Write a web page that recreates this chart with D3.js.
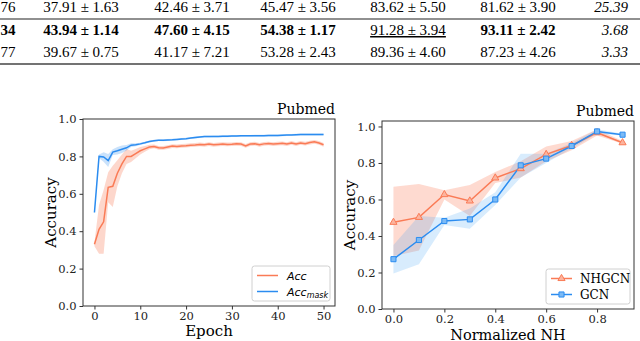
<!DOCTYPE html>
<html>
<head>
<meta charset="utf-8">
<script src="https://cdn.jsdelivr.net/npm/d3@7"></script>
<style>
  body { margin: 0; background: #fff; }
  svg { display: block; }
</style>
</head>
<body>
<div id="my_dataviz"></div>
<script>
// table rows at the top (fragment of a table)
var tableRows = [
  ["76", "37.91 ± 1.63", "42.46 ± 3.71", "45.47 ± 3.56", "83.62 ± 5.50", "81.62 ± 3.90", "25.39"],
  ["34", "43.94 ± 1.14", "47.60 ± 4.15", "54.38 ± 1.17", "91.28 ± 3.94", "93.11 ± 2.42", "3.68"],
  ["77", "39.67 ± 0.75", "41.17 ± 7.21", "53.28 ± 2.43", "89.36 ± 4.60", "87.23 ± 4.26", "3.33"]
];

// left chart: accuracy per epoch
var epochs = d3.range(0, 51);
var accMean = [0.33,0.41,0.45,0.635,0.64,0.71,0.76,0.80,0.80,0.815,0.83,0.84,0.85,0.853,0.846,0.845,0.85,0.855,0.853,0.856,
  0.857,0.86,0.861,0.864,0.862,0.866,0.862,0.864,0.866,0.864,0.865,0.867,0.866,0.856,0.866,0.868,0.862,0.867,0.869,0.866,
  0.868,0.87,0.866,0.872,0.866,0.872,0.868,0.874,0.878,0.872,0.862];
var accStd = [0.01,0.13,0.17,0.08,0.11,0.07,0.05,0.04,0.03,0.025,0.02,0.015,0.012,0.01,0.01,0.01,0.01,0.01,0.01,0.01,
  0.01,0.01,0.01,0.01,0.01,0.01,0.01,0.01,0.01,0.01,0.01,0.01,0.01,0.01,0.01,0.01,0.01,0.01,0.01,0.01,
  0.01,0.01,0.01,0.01,0.01,0.01,0.01,0.01,0.01,0.01,0.01];
var maskMean = [0.50,0.80,0.797,0.778,0.823,0.83,0.838,0.846,0.86,0.862,0.867,0.873,0.88,0.884,0.887,0.886,0.888,0.889,0.891,0.893,
  0.895,0.898,0.901,0.904,0.906,0.906,0.907,0.907,0.908,0.908,0.909,0.909,0.91,0.91,0.91,0.911,0.911,0.911,0.912,0.912,
  0.912,0.913,0.914,0.915,0.916,0.917,0.917,0.917,0.917,0.917,0.917];
var maskStd = [0.005,0.01,0.025,0.035,0.015,0.02,0.02,0.015,0.01,0.008,0.006,0.005,0.005,0.005,0.005,0.005,0.005,0.005,0.005,0.005,
  0.005,0.005,0.005,0.005,0.005,0.005,0.005,0.005,0.005,0.005,0.005,0.005,0.005,0.005,0.005,0.005,0.005,0.005,0.005,0.005,
  0.005,0.005,0.005,0.005,0.005,0.005,0.005,0.005,0.005,0.005,0.005];

// right chart: accuracy vs normalized NH
var nh = [0.0,0.1,0.2,0.3,0.4,0.5,0.6,0.7,0.8,0.9];
var nhgcn = [0.475,0.502,0.627,0.592,0.718,0.769,0.847,0.896,0.966,0.911];
var nhgcnLo = [0.29,0.32,0.60,0.51,0.69,0.72,0.81,0.87,0.95,0.905];
var nhgcnHi = [0.67,0.685,0.65,0.68,0.75,0.81,0.89,0.92,0.985,0.92];
var gcn = [0.273,0.378,0.482,0.491,0.60,0.787,0.824,0.893,0.973,0.955];
var gcnLo = [0.195,0.245,0.46,0.44,0.57,0.72,0.80,0.88,0.96,0.95];
var gcnHi = [0.35,0.51,0.50,0.55,0.64,0.85,0.85,0.91,0.985,0.96];

var orange = "#fa7b56", blue = "#2b8cf0";
var serif = "DejaVu Serif";

var svg = d3.select("#my_dataviz")
  .append("svg")
  .attr("width", 640)
  .attr("height", 341);

// ---- table fragment ----
var colX = [8, 81, 192, 298, 408, 518, 628];
var rowY = [12, 35, 57];
var table = svg.append("g")
  .style("font-family", "Liberation Serif")
  .style("font-size", "15px");
tableRows.forEach(function(row, r) {
  row.forEach(function(cell, c) {
    var last = c == row.length - 1;
    var t = table.append("text")
      .attr("x", colX[c])
      .attr("y", rowY[r])
      .attr("text-anchor", last ? "end" : "middle")
      .style("font-style", last ? "italic" : "normal")
      .style("font-weight", (r == 1 && c != 4 && !last) ? "bold" : "normal")
      .text(cell);
    if (r == 1 && c == 4) t.style("text-decoration", "underline");
  });
});
table.append("line").attr("x1", 0).attr("x2", 640).attr("y1", 19).attr("y2", 19)
  .attr("stroke", "#222").attr("stroke-width", 1.2);
table.append("line").attr("x1", 0).attr("x2", 640).attr("y1", 64).attr("y2", 64)
  .attr("stroke", "#444").attr("stroke-width", 1.6);

// helper for axes styling
function styleAxis(g) {
  g.selectAll("text").style("font-family", serif).style("font-size", "11.5px").attr("fill", "#222");
  g.selectAll("line").attr("stroke", "#333");
  g.select(".domain").remove();
}

// ---- left chart ----
var L = {left: 83, right: 335, top: 119, bottom: 306};
var xL = d3.scaleLinear().domain([-2.5, 52.5]).range([L.left, L.right]);
var yL = d3.scaleLinear().domain([0, 1]).range([L.bottom, L.top]);

var gl = svg.append("g");
gl.append("g")
  .attr("transform", "translate(0," + L.bottom + ")")
  .call(d3.axisBottom(xL).tickValues([0, 10, 20, 30, 40, 50]).tickSize(3.5).tickPadding(2).tickFormat(d3.format("d")))
  .call(styleAxis);
gl.append("g")
  .attr("transform", "translate(" + L.left + ",0)")
  .call(d3.axisLeft(yL).tickValues([0, 0.2, 0.4, 0.6, 0.8, 1.0]).tickSize(3.5).tickPadding(3).tickFormat(d3.format(".1f")))
  .call(styleAxis);

var areaL = function(mean, sd) {
  return d3.area()
    .x(function(d) { return xL(d); })
    .y0(function(d) { return yL(mean[d] - sd[d]); })
    .y1(function(d) { return yL(mean[d] + sd[d]); })(epochs);
};
var lineL = function(mean) {
  return d3.line().x(function(d) { return xL(d); }).y(function(d) { return yL(mean[d]); })(epochs);
};
gl.append("path").attr("d", areaL(accMean, accStd)).attr("fill", orange).attr("opacity", 0.3);
gl.append("path").attr("d", areaL(maskMean, maskStd)).attr("fill", blue).attr("opacity", 0.25);
gl.append("path").attr("d", lineL(accMean)).attr("fill", "none").attr("stroke", orange).attr("stroke-width", 1.5);
gl.append("path").attr("d", lineL(maskMean)).attr("fill", "none").attr("stroke", blue).attr("stroke-width", 1.5);

gl.append("rect")
  .attr("x", L.left).attr("y", L.top)
  .attr("width", L.right - L.left).attr("height", L.bottom - L.top)
  .attr("fill", "none").attr("stroke", "#333").attr("stroke-width", 1);

gl.append("text").attr("x", L.right).attr("y", L.top - 5).attr("text-anchor", "end")
  .style("font-family", serif).style("font-size", "14px").text("Pubmed");
gl.append("text").attr("x", (L.left + L.right) / 2).attr("y", 336).attr("text-anchor", "middle")
  .style("font-family", serif).style("font-size", "15px").text("Epoch");
gl.append("text").attr("transform", "translate(56," + ((L.top + L.bottom) / 2) + ") rotate(-90)")
  .attr("text-anchor", "middle")
  .style("font-family", serif).style("font-size", "15px").text("Accuracy");

// legend left
var legL = gl.append("g").attr("transform", "translate(252,266)");
legL.append("rect").attr("width", 78).attr("height", 35).attr("rx", 2.5)
  .attr("fill", "#fff").attr("fill-opacity", 0.8).attr("stroke", "#d0d0d0");
[{c: orange, y: 9.5, t: "Acc", sub: ""}, {c: blue, y: 25.5, t: "Acc", sub: "mask"}].forEach(function(e) {
  legL.append("line").attr("x1", 5).attr("x2", 26).attr("y1", e.y).attr("y2", e.y)
    .attr("stroke", e.c).attr("stroke-width", 1.5);
  var tx = legL.append("text").attr("x", 35).attr("y", e.y + 4)
    .style("font-family", "DejaVu Sans").style("font-style", "italic").style("font-size", "11px")
    .text(e.t);
  if (e.sub) tx.append("tspan").attr("dy", 2).style("font-size", "8px").text(e.sub);
});

// ---- right chart ----
var R = {left: 382, right: 634, top: 121, bottom: 309};
var xR = d3.scaleLinear().domain([-0.045, 0.945]).range([R.left, R.right]);
var yR = d3.scaleLinear().domain([0, 1.03]).range([R.bottom, R.top]);

var gr = svg.append("g");
gr.append("g")
  .attr("transform", "translate(0," + R.bottom + ")")
  .call(d3.axisBottom(xR).tickValues([0, 0.2, 0.4, 0.6, 0.8]).tickSize(3.5).tickPadding(2).tickFormat(d3.format(".1f")))
  .call(styleAxis);
gr.append("g")
  .attr("transform", "translate(" + R.left + ",0)")
  .call(d3.axisLeft(yR).tickValues([0, 0.2, 0.4, 0.6, 0.8, 1.0]).tickSize(3.5).tickPadding(3).tickFormat(d3.format(".1f")))
  .call(styleAxis);

var idx = d3.range(nh.length);
var areaR = function(lo, hi) {
  return d3.area().x(function(i) { return xR(nh[i]); })
    .y0(function(i) { return yR(lo[i]); }).y1(function(i) { return yR(hi[i]); })(idx);
};
var lineR = function(v) {
  return d3.line().x(function(i) { return xR(nh[i]); }).y(function(i) { return yR(v[i]); })(idx);
};
gr.append("path").attr("d", areaR(nhgcnLo, nhgcnHi)).attr("fill", orange).attr("opacity", 0.28);
gr.append("path").attr("d", areaR(gcnLo, gcnHi)).attr("fill", "#3aa0f5").attr("opacity", 0.2);
gr.append("path").attr("d", lineR(nhgcn)).attr("fill", "none").attr("stroke", orange).attr("stroke-width", 1.5);
gr.append("path").attr("d", lineR(gcn)).attr("fill", "none").attr("stroke", blue).attr("stroke-width", 1.5);

var tri = d3.symbol().type(d3.symbolTriangle).size(22);
var sq = d3.symbol().type(d3.symbolSquare).size(26);
gr.selectAll(".tri").data(idx).enter().append("path")
  .attr("d", tri).attr("transform", function(i) { return "translate(" + xR(nh[i]) + "," + yR(nhgcn[i]) + ")"; })
  .attr("fill", "#fcb49e").attr("stroke", orange).attr("stroke-width", 1);
gr.selectAll(".sq").data(idx).enter().append("path")
  .attr("d", sq).attr("transform", function(i) { return "translate(" + xR(nh[i]) + "," + yR(gcn[i]) + ")"; })
  .attr("fill", "#7cbaf5").attr("stroke", blue).attr("stroke-width", 1);

gr.append("rect")
  .attr("x", R.left).attr("y", R.top)
  .attr("width", R.right - R.left).attr("height", R.bottom - R.top)
  .attr("fill", "none").attr("stroke", "#333").attr("stroke-width", 1);

gr.append("text").attr("x", R.right).attr("y", R.top - 5).attr("text-anchor", "end")
  .style("font-family", serif).style("font-size", "14px").text("Pubmed");
gr.append("text").attr("x", (R.left + R.right) / 2).attr("y", 339.5).attr("text-anchor", "middle")
  .style("font-family", serif).style("font-size", "14.5px").text("Normalized NH");
gr.append("text").attr("transform", "translate(355," + ((R.top + R.bottom) / 2) + ") rotate(-90)")
  .attr("text-anchor", "middle")
  .style("font-family", serif).style("font-size", "15px").text("Accuracy");

// legend right
var legR = gr.append("g").attr("transform", "translate(546,269)");
legR.append("rect").attr("width", 84).attr("height", 35).attr("rx", 2.5)
  .attr("fill", "#fff").attr("fill-opacity", 0.8).attr("stroke", "#d0d0d0");
[{c: orange, y: 9.5, t: "NHGCN", m: tri, f: "#fcb49e"}, {c: blue, y: 25.5, t: "GCN", m: sq, f: "#7cbaf5"}].forEach(function(e) {
  legR.append("line").attr("x1", 5).attr("x2", 26).attr("y1", e.y).attr("y2", e.y)
    .attr("stroke", e.c).attr("stroke-width", 1.5);
  legR.append("path").attr("d", e.m).attr("transform", "translate(15.5," + e.y + ")")
    .attr("fill", e.f).attr("stroke", e.c);
  legR.append("text").attr("x", 34).attr("y", e.y + 4)
    .style("font-family", serif).style("font-size", "12px").text(e.t);
});
</script>
</body>
</html>
